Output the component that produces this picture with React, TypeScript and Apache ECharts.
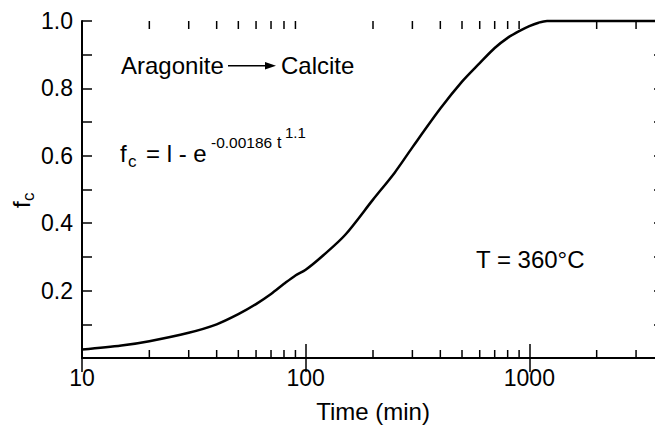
import React, { useEffect, useRef } from "react";
import * as echarts from "echarts";

// Data
const timeMin = [10, 15, 20, 30, 40, 50, 60, 70, 80, 90, 100, 120, 150, 200, 250, 300, 400, 500, 600, 700, 800, 900, 1000, 1100, 1200, 2000, 4000];
const fractionCalcite = [0.025, 0.037, 0.05, 0.075, 0.1, 0.13, 0.16, 0.19, 0.22, 0.245, 0.262, 0.305, 0.365, 0.47, 0.55, 0.625, 0.74, 0.82, 0.875, 0.92, 0.95, 0.97, 0.985, 0.995, 1.0, 1.0, 1.0];
const xTickLabels = [10, 100, 1000];
const xMinorTicks = [20, 30, 40, 50, 60, 70, 80, 90, 200, 300, 400, 500, 600, 700, 800, 900, 2000, 3000];
const xRange = [10, 4000];
const yRange = [0, 1];

const FONT = "Liberation Sans, Arial, Helvetica, sans-serif";

export default function App() {
  const ref = useRef<HTMLDivElement>(null);
  useEffect(() => {
    if (!ref.current) return;
    const chart = echarts.init(ref.current, undefined, { renderer: "svg" });
    const axisLine = { show: true, lineStyle: { color: "#000", width: 2 } };
    const txt = (text: string, x: number, y: number, size: number, extra: any = {}) => ({
      type: "text",
      x,
      y,
      style: { text, fontSize: size, fontFamily: FONT, fill: "#000", verticalAlign: "middle", align: "left", ...extra },
    });
    chart.setOption({
      animation: false,
      grid: { left: 82, top: 21, bottom: 65, right: 8 },
      xAxis: [
        {
          type: "log",
          logBase: 10,
          min: xRange[0],
          max: xRange[1],
          axisLine,
          axisTick: { show: true, inside: true, length: 14, lineStyle: { color: "#000", width: 1.5 } },
          axisLabel: {
            formatter: (v: number) => (xTickLabels.includes(Math.round(v)) ? String(Math.round(v)) : ""),
            fontSize: 23,
            fontFamily: FONT,
            color: "#000",
            margin: 8,
          },
          splitLine: { show: false },
          name: "Time (min)",
          nameLocation: "middle",
          nameGap: 41,
          nameTextStyle: { fontSize: 24, fontFamily: FONT, color: "#000" },
        },
        {
          type: "log",
          logBase: 10,
          min: xRange[0],
          max: xRange[1],
          position: "top",
          axisLine,
          axisTick: { show: true, inside: true, length: 14, lineStyle: { color: "#000", width: 1.5 } },
          axisLabel: { show: false },
          splitLine: { show: false },
        },
      ],
      yAxis: [
        {
          type: "value",
          min: yRange[0],
          max: yRange[1],
          interval: 0.2,
          axisLine,
          axisTick: { show: true, inside: true, length: 10, lineStyle: { color: "#000", width: 1.5 } },
          minorTick: { show: true, splitNumber: 2, length: 10, lineStyle: { color: "#000", width: 1.5 } },
          axisLabel: {
            formatter: (v: number) => (v === 0 ? "" : v.toFixed(1)),
            fontSize: 23,
            fontFamily: FONT,
            color: "#000",
            margin: 9,
          },
          splitLine: { show: false },
        },
        {
          type: "value",
          min: yRange[0],
          max: yRange[1],
          interval: 0.2,
          position: "right",
          axisLine,
          axisTick: { show: true, inside: true, length: 10, lineStyle: { color: "#000", width: 1.5 } },
          minorTick: { show: true, splitNumber: 2, length: 10, lineStyle: { color: "#000", width: 1.5 } },
          axisLabel: { show: false },
          splitLine: { show: false },
        },
      ],
      series: [
        {
          type: "line",
          data: timeMin.map((t, i) => [t, fractionCalcite[i]]),
          showSymbol: false,
          smooth: 0.3,
          lineStyle: { color: "#000", width: 2.5 },
          xAxisIndex: 0,
          yAxisIndex: 0,
          clip: false,
        },
        {
          type: "custom",
          xAxisIndex: 0,
          yAxisIndex: 0,
          data: xMinorTicks.map((t) => [t]),
          encode: { x: 0 },
          clip: false,
          renderItem: (params: any, api: any) => {
            const v = api.value(0);
            const pb = api.coord([v, yRange[0]]);
            const pt = api.coord([v, yRange[1]]);
            return {
              type: "group",
              children: [
                { type: "line", shape: { x1: pb[0], y1: pb[1], x2: pb[0], y2: pb[1] - 8 }, style: { stroke: "#000", lineWidth: 1.5 } },
                { type: "line", shape: { x1: pt[0], y1: pt[1], x2: pt[0], y2: pt[1] + 8 }, style: { stroke: "#000", lineWidth: 1.5 } },
              ],
            };
          },
        },
      ],
      graphic: [
        txt("Aragonite", 121, 65.5, 24),
        { type: "line", shape: { x1: 228, y1: 65.7, x2: 268, y2: 65.7 }, style: { stroke: "#000", lineWidth: 1.5 } },
        { type: "polygon", shape: { points: [[265, 62], [276, 65.7], [265, 69.4]] }, style: { fill: "#000" } },
        txt("Calcite", 281, 65.5, 24),
        txt("f", 120, 153.2, 24),
        txt("c", 128, 161, 17),
        txt("= l - e", 146, 153.2, 24),
        txt("-0.00186", 211, 142.5, 15.5),
        txt("t", 277, 142.5, 16),
        txt("1.1", 285, 132.5, 15),
        txt("T = 360°C", 476, 259, 24),
        {
          type: "group",
          x: 21,
          y: 208,
          rotation: Math.PI / 2,
          children: [txt("f", 0, 0, 24), txt("c", 7, 7, 17)],
        },
      ],
    });
    return () => chart.dispose();
  }, []);
  return (
    <div style={{ position: "fixed", left: 0, top: 0, width: 655, height: 428, overflow: "hidden", background: "#fff" }}>
      <div ref={ref} style={{ width: 672, height: 428 }} />
    </div>
  );
}
